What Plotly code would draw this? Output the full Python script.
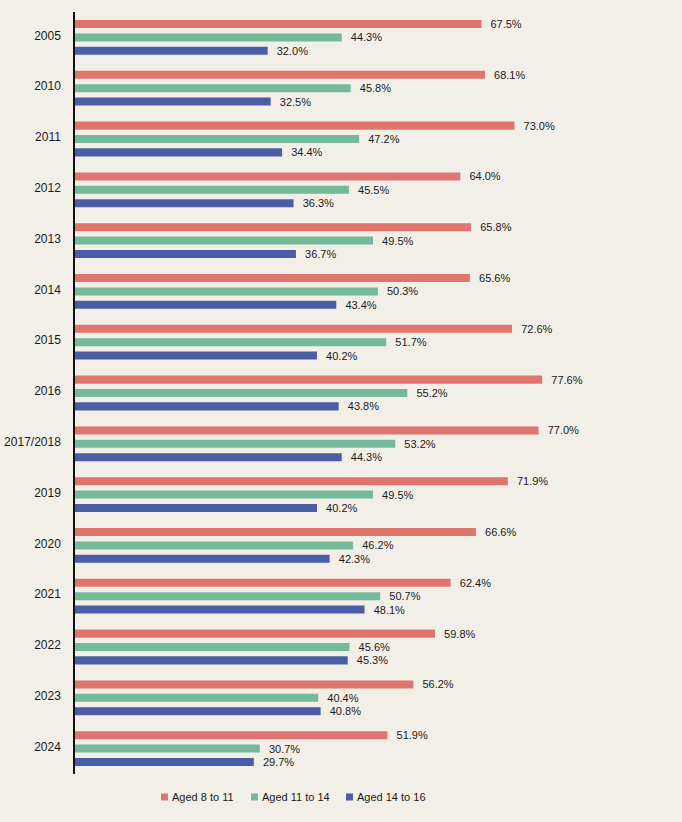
import plotly.graph_objects as go

years = ["2005", "2010", "2011", "2012", "2013", "2014", "2015", "2016",
         "2017/2018", "2019", "2020", "2021", "2022", "2023", "2024"]
aged_8_11 = [67.5, 68.1, 73.0, 64.0, 65.8, 65.6, 72.6, 77.6, 77.0, 71.9, 66.6, 62.4, 59.8, 56.2, 51.9]
aged_11_14 = [44.3, 45.8, 47.2, 45.5, 49.5, 50.3, 51.7, 55.2, 53.2, 49.5, 46.2, 50.7, 45.6, 40.4, 30.7]
aged_14_16 = [32.0, 32.5, 34.4, 36.3, 36.7, 43.4, 40.2, 43.8, 44.3, 40.2, 42.3, 48.1, 45.3, 40.8, 29.7]

series_names = ["Aged 8 to 11", "Aged 11 to 14", "Aged 14 to 16"]
series_vals = [aged_8_11, aged_11_14, aged_14_16]
series_colors = ["#e0756f", "#73b99a", "#4b5ea5"]

font_family = "Liberation Sans, Arial, sans-serif"
fig = go.Figure()
for name, vals, color in zip(series_names, series_vals, series_colors):
    fig.add_trace(go.Bar(
        y=years, x=vals, name=name, orientation="h",
        marker=dict(color=color, line=dict(width=0)),
        text=[f"\u00a0\u00a0{v:.1f}%" for v in vals],
        textposition="outside",
        constraintext="none",
        textfont=dict(size=11, color="#1a1a1a", family=font_family),
        cliponaxis=False,
        showlegend=False,
    ))

# manual legend (small squares hugging the labels, as in the reference)
W = 682 - 75 - 5
H = 822 - 12 - 48
legend_x_px = [161, 251, 346]
legend_y_px = 797
for name, color, px in zip(series_names, series_colors, legend_x_px):
    x0 = (px - 75) / W
    x1 = (px + 7 - 75) / W
    yc = (822 - 48 - legend_y_px) / H
    fig.add_shape(type="rect", xref="paper", yref="paper",
                  x0=x0, x1=x1, y0=yc - 3.5 / H, y1=yc + 3.5 / H,
                  fillcolor=color, line=dict(width=0))
    fig.add_annotation(xref="paper", yref="paper", x=(px + 9 - 75) / W, y=yc,
                       xanchor="left", yanchor="middle", showarrow=False,
                       text=name, font=dict(size=11, color="#1a1a1a", family=font_family))

fig.update_layout(
    width=682, height=822,
    margin=dict(l=75, r=5, t=12, b=48),
    paper_bgcolor="#f2efe8", plot_bgcolor="#f2efe8",
    barmode="group", bargap=0.21, bargroupgap=0.4,
    font=dict(family=font_family, size=12, color="#1a1a1a"),
    showlegend=False,
)
fig.update_xaxes(range=[0, 100], showgrid=False, showticklabels=False, zeroline=False,
                 showline=False, fixedrange=True)
fig.update_yaxes(type="category", autorange="reversed", showgrid=False,
                 showline=True, linecolor="#111111", linewidth=1.5,
                 ticks="", ticklabelstandoff=10, ticklabelshift=2, tickfont=dict(size=12))

fig.write_html("out.html")
